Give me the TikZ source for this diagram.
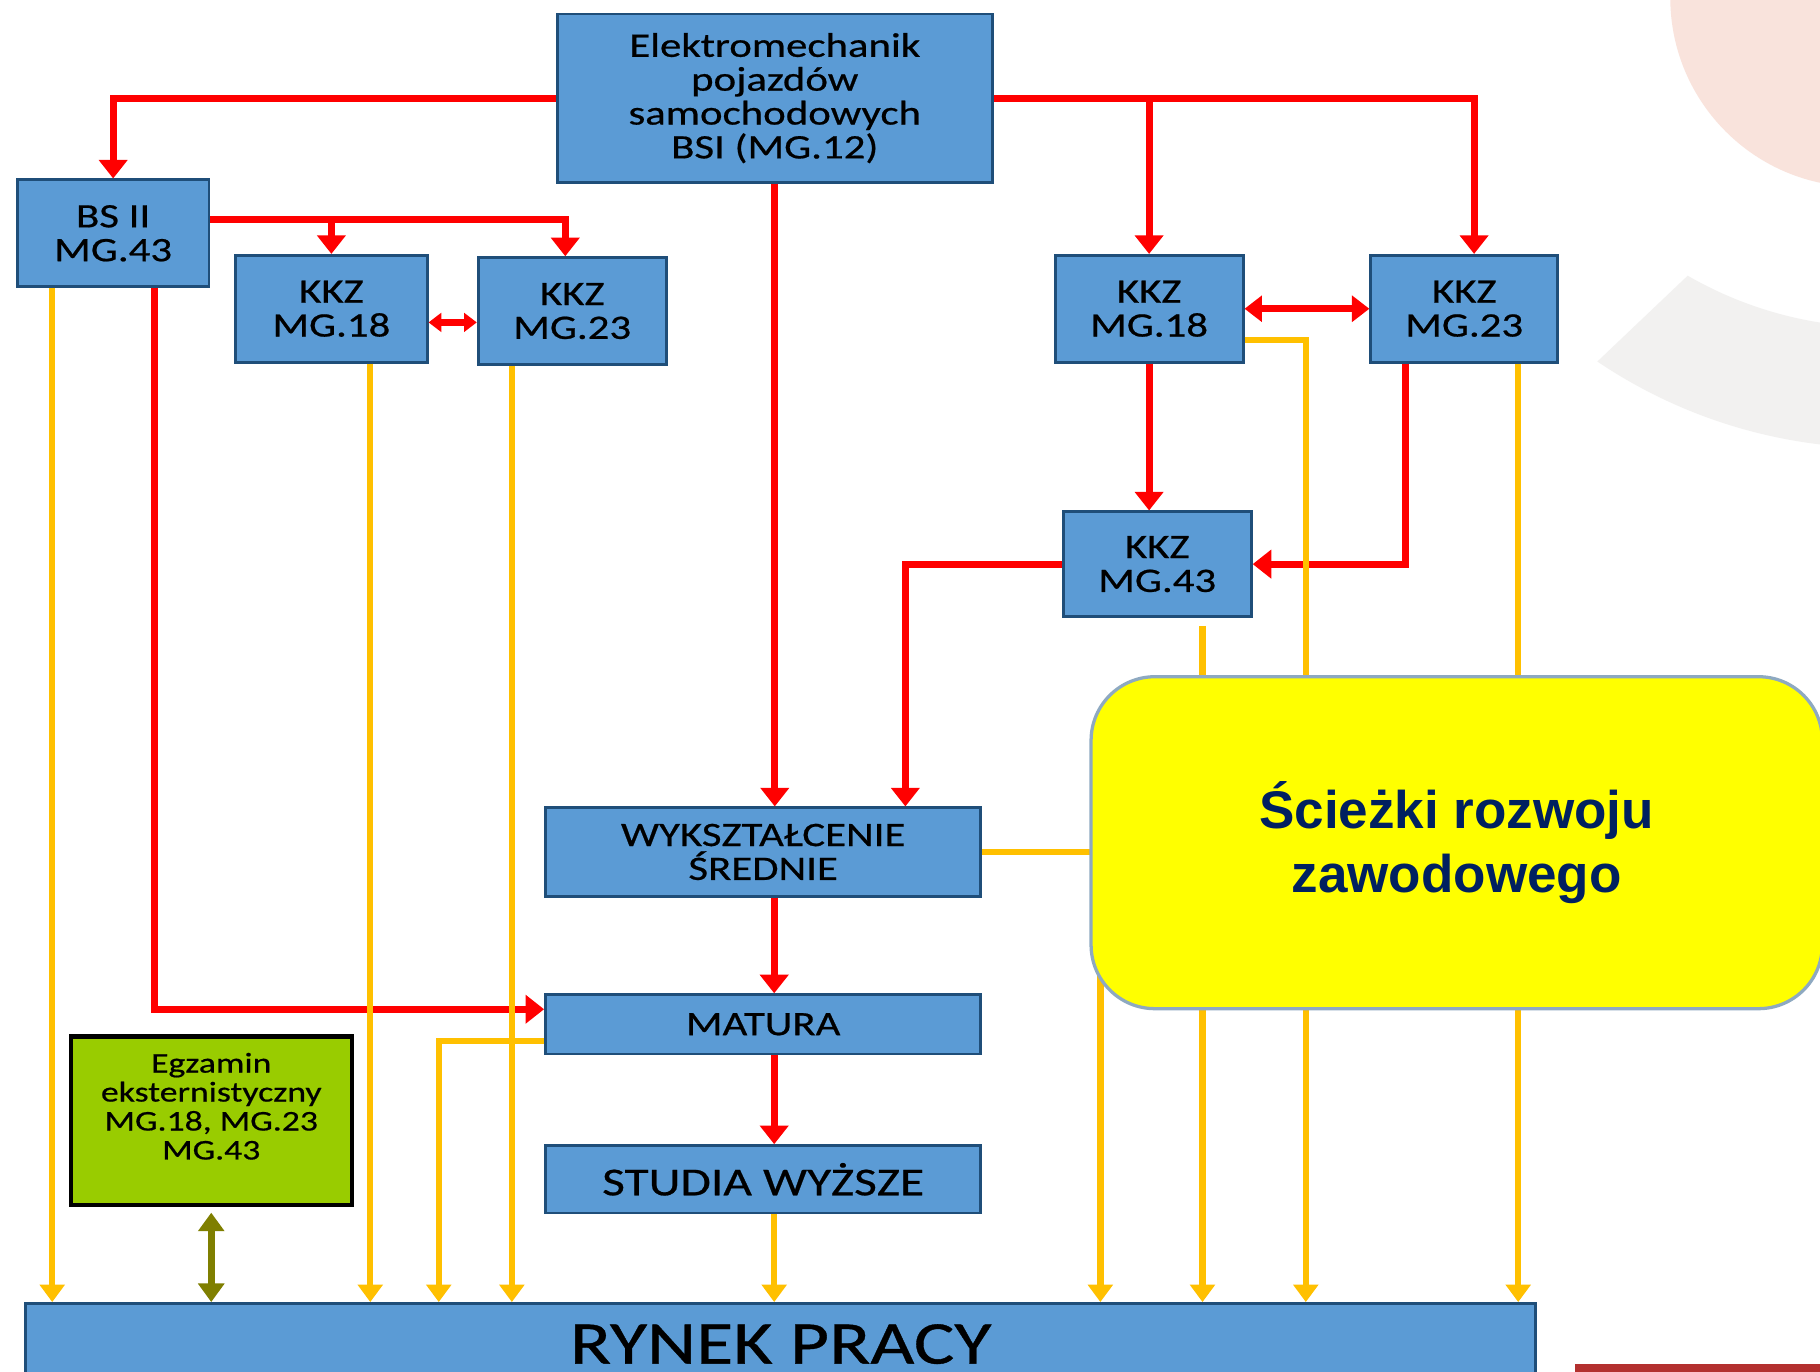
\documentclass[tikz,border=0pt]{standalone}
\usepackage{fontspec}
\setmainfont{Carlito}[FakeStretch=1.25, FakeBold=0.6]
\newfontfamily\naglowek{Liberation Sans}
\usetikzlibrary{arrows.meta}
\definecolor{niebieski}{HTML}{5B9BD5}
\definecolor{ramka}{HTML}{1F4E79}
\definecolor{zolty}{HTML}{FFC000}
\definecolor{cytryna}{RGB}{255,255,0}
\definecolor{zielony}{HTML}{99CC00}
\definecolor{oliwka}{HTML}{7F7F00}
\definecolor{granat}{HTML}{002060}
\definecolor{szaroniebieski}{HTML}{8EA9C1}
\definecolor{rozowy}{HTML}{F9E3DC}
\definecolor{szary}{HTML}{F2F1F0}
\definecolor{bordo}{HTML}{B3302F}
\begin{document}
\begin{tikzpicture}[x=0.1mm, y=-0.1mm,
    blok/.style={draw=ramka, line width=0.7pt, fill=niebieski, align=center, inner sep=1pt,
      font=\fontsize{8.4}{8.3}\selectfont},
    czerwona/.style={draw=red, line width=0.6mm, -{Triangle[width=2.4mm,length=1.6mm]}},
    zolta/.style={draw=zolty, line width=0.55mm, -{Triangle[width=2.1mm,length=1.5mm]}}]
      \path[use as bounding box, clip] (0,0) rectangle (1568,1182);
      \fill[white] (0,0) rectangle (1568,1182);

      % tlo slajdu
      \fill[rozowy] (1602,-2) circle[radius=16.3mm];
      \fill[szary] ([shift={(1620,-50)}]240:33.2mm) arc[start angle=240, end angle=300, radius=33.2mm]
        -- ([shift={(1620,-50)}]300:43.6mm) arc[start angle=300, end angle=236, radius=43.6mm] -- cycle;
      \fill[bordo] (1357,1175) rectangle (1568,1182);

      \def \Bloki {
        top/667.5/84.5/37.5/14.5/{Elektromechanik\\pojazdów\\samochodowych\\BSI (MG.12)},
        bs/97.5/201/16.5/9.2/{BS II\\MG.43},
        lkkz18/285.5/266/16.5/9.2/{KKZ\\MG.18},
        lkkz23/493/268/16.2/9.2/{KKZ\\MG.23},
        rkkz18/990/266/16.2/9.2/{KKZ\\MG.18},
        rkkz23/1261.5/266/16.1/9.2/{KKZ\\MG.23},
        mg43/997/486/16.2/9.0/{KKZ\\MG.43},
        wyk/657.5/734/37.5/7.6/{WYKSZTAŁCENIE\\ŚREDNIE},
        matura/657.5/882.5/37.5/5.1/{MATURA}}

      \foreach \id / \x / \y / \w / \h / \tekst in \Bloki {
        \node[blok, minimum width=\w mm, minimum height=\h mm] (\id) at (\x, \y) {\tekst};
      }
      \node[blok, minimum width=37.5mm, minimum height=5.8mm, font=\fontsize{9.7}{10}\selectfont]
        (studia) at (657.5,1016) {STUDIA WYŻSZE};
      \node[blok, minimum width=130.1mm, minimum height=7.0mm, font=\fontsize{14.9}{15}\selectfont]
        (rynek) at (672.5,1158) {RYNEK PRACY};
      \node[draw=black, line width=1pt, fill=zielony, align=center, minimum width=24.2mm, minimum height=14.5mm,
        font=\fontsize{7}{7.1}\selectfont] (exam) at (182,965.5)
        {Egzamin\\eksternistyczny\\MG.18, MG.23\\MG.43\\ \mbox{}};

      % czerwone
      \draw[czerwona] (top.west) -| (bs.north);
      \draw[czerwona] (top.east) -| ([xshift=0.85mm]rkkz23.north);
      \draw[czerwona] (top.east -| rkkz18.north) -- (rkkz18.north);
      \draw[czerwona] (top.south) -- (top.south |- wyk.north);
      \draw[czerwona] (bs.8) -| ([xshift=-0.6mm]lkkz23.north);
      \draw[czerwona] (bs.8 -| lkkz18.north) -- (lkkz18.north);
      \draw[czerwona, {Triangle[width=1.6mm,length=1.1mm]}-{Triangle[width=1.6mm,length=1.1mm]}]
        (lkkz18.-8) -- (lkkz18.-8 -| lkkz23.west);
      \draw[czerwona, {Triangle[width=2.2mm,length=1.5mm]}-{Triangle[width=2.2mm,length=1.5mm]}]
        (rkkz18.east) -- (rkkz23.west);
      \draw[czerwona] (rkkz18.south) -- (rkkz18.south |- mg43.north);
      \draw[czerwona] ([xshift=-5.1mm]rkkz23.south) |- (mg43.east);
      \draw[czerwona] (mg43.west) -| ([xshift=12.25mm]wyk.north);
      \draw[czerwona] ([xshift=3.55mm]bs.south) |- ([yshift=1.3mm]matura.west);
      \draw[czerwona] ([xshift=0.95mm]wyk.south) -- ([xshift=0.95mm]matura.north);
      \draw[czerwona] ([xshift=0.95mm]matura.south) -- ([xshift=0.95mm]studia.north);

      % zolte
      \foreach \od / \dx in {bs/-5.25, lkkz18/3.35, lkkz23/-5.2, studia/0.95, rkkz23/4.65} {
        \draw[zolta] ([xshift=\dx mm]\od.south) -- ([xshift=\dx mm]\od.south |- rynek.north);
      }
      \draw[zolta] ([xshift=3.9mm,yshift=-0.7mm]mg43.south) -- ([xshift=3.9mm]mg43.south |- rynek.north);
      \draw[zolta] ([yshift=-1.45mm]matura.west) -| (378,0 |- rynek.north);
      \draw[zolta] (wyk.east) -| (948,0 |- rynek.north);
      \draw[zolta] (rkkz18.-18) -| (1125,0 |- rynek.north);

      \draw[oliwka, line width=0.6mm, {Triangle[width=2.2mm,length=1.6mm]}-{Triangle[width=2.2mm,length=1.6mm]}]
        ([yshift=-0.5mm]exam.south) -- (exam.south |- rynek.north);

      \node[draw=szaroniebieski, line width=0.8pt, fill=cytryna, rounded corners=5.5mm, minimum width=63mm,
        minimum height=28.6mm, align=center, text=granat, font=\naglowek\bfseries\fontsize{13}{15.6}\selectfont]
        (sciezki) at (1255,726) {Ścieżki rozwoju\\zawodowego};
    \end{tikzpicture}
\end{document}
